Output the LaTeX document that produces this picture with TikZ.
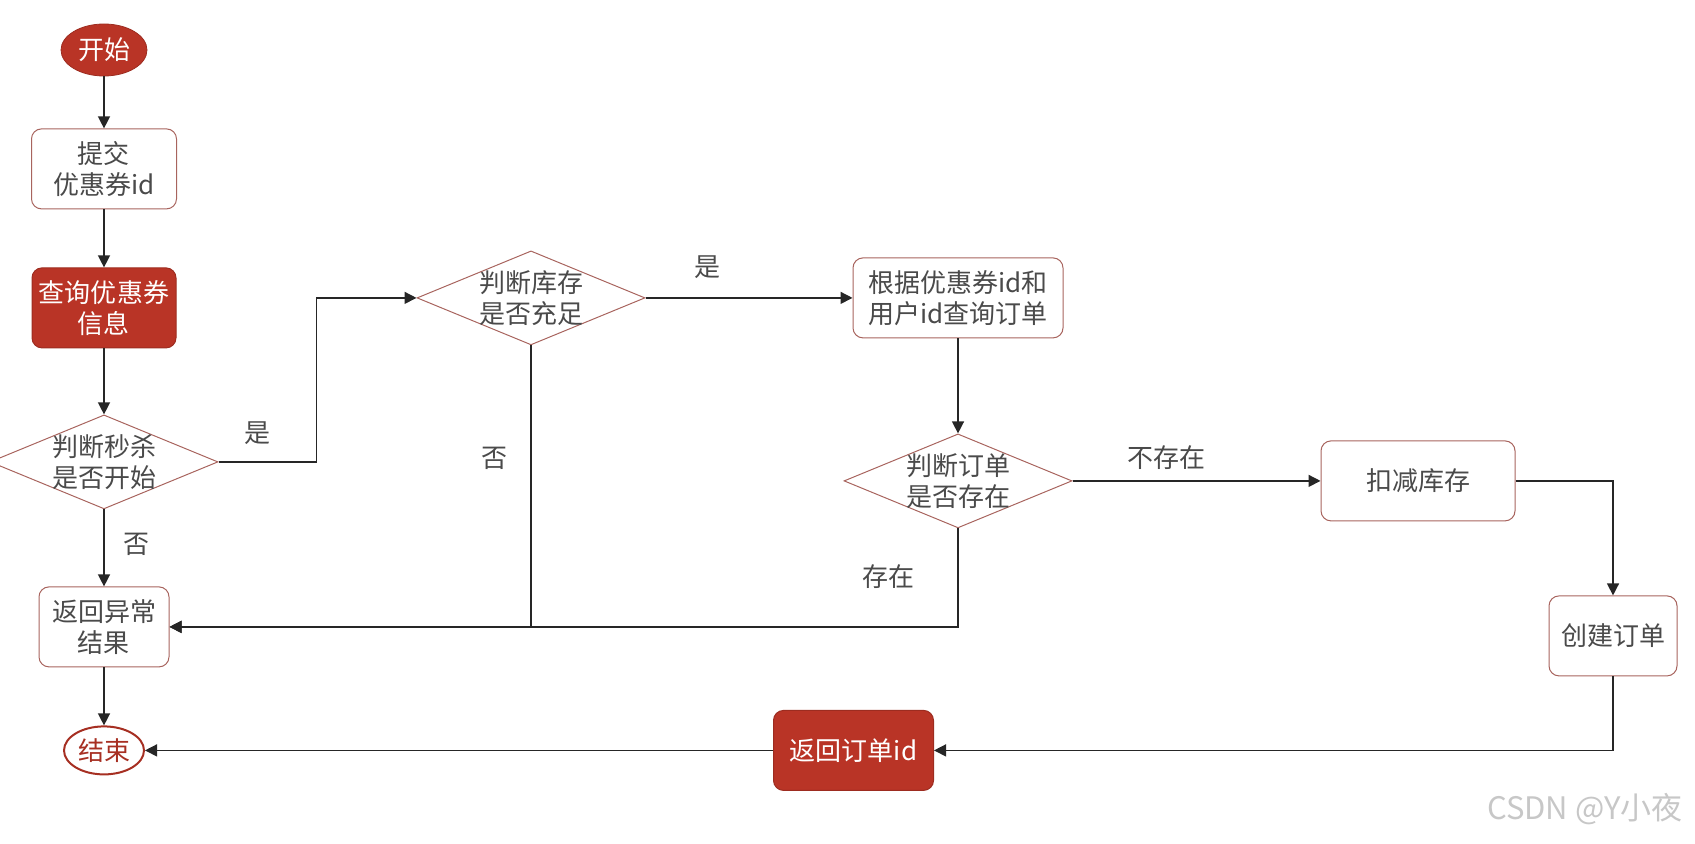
\documentclass[tikz,border=0pt]{standalone}
\usepackage{fontspec}
\setmainfont{Noto Sans CJK SC}
\usetikzlibrary{positioning,arrows.meta,shapes.geometric}
\definecolor{flowred}{HTML}{B93426}
\definecolor{edgered}{HTML}{A8645E}
\definecolor{txtgray}{HTML}{4A4A4A}

\begin{document}
\begin{tikzpicture}[
  font=\fontsize{13pt}{15.5pt}\selectfont,
  box/.style={draw=edgered, fill=white, rounded corners=5pt, minimum height=40pt,
              align=center, text=txtgray, line width=0.5pt},
  redbox/.style={box, draw=flowred!85!black, fill=flowred, text=white},
  decision/.style={diamond, draw=edgered, align=center, text=txtgray, line width=0.5pt,
              inner sep=-4pt, minimum width=114pt, minimum height=47pt, aspect=2.4},
  term/.style={ellipse, minimum width=43pt, minimum height=26pt, inner sep=0pt},
  arr/.style={-{Triangle[length=6pt,width=6pt]}, draw=black!85, line width=0.7pt},
  lbl/.style={text=txtgray}]
\useasboundingbox (0,0) rectangle (847.5pt,-422pt);
\node[term, fill=flowred, draw=flowred!85!black, text=white] (start) at (52pt,-25pt) {开始};
\node[box, minimum width=72.5pt, below=26pt of start] (submit) {提交\\优惠券id};
\node[redbox, minimum width=72pt, below=29pt of submit] (query) {查询优惠券\\信息};
\node[decision, below=33pt of query] (seckill) {判断秒杀\\是否开始};
\node[box, minimum width=65pt, below=38.5pt of seckill] (err) {返回异常\\结果};
\node[term, minimum width=40pt, minimum height=24pt, draw=flowred!90!black, line width=1pt,
      fill=white, text=flowred!90!black, below=29pt of err] (stop) {结束};
\node[decision, right=120pt of query, yshift=5pt] (stock) {判断库存\\是否充足};
\node[box, minimum width=105pt, right=103.5pt of stock] (findord) {根据优惠券id和\\用户id查询订单};
\node[decision, below=47.5pt of findord] (hasord) {判断订单\\是否存在};
\node[box, minimum width=97pt, right=124pt of hasord] (deduct) {扣减库存};
\node[box, minimum width=64pt, below=37pt of deduct, xshift=97.5pt] (create) {创建订单};
\node[redbox, minimum width=80pt, right=314pt of stop] (retid) {返回订单id};
\node[text=black!22, font=\fontsize{15.5pt}{18pt}\selectfont, anchor=east] (mark) at (845pt,-404.5pt) {CSDN @Y小夜};
% left column
\draw[arr] (start) -- (submit);
\draw[arr] (submit) -- (query);
\draw[arr] (query) -- (seckill);
\draw[arr] (seckill) -- node[lbl, right=6pt, pos=0.45] (no1) {否} (err);
\draw[arr] (err) -- (stop);
% checks
\draw[arr] (seckill.east) -- ++(49pt,0) node[lbl, pos=0.4, above=5pt] (yes1) {是} |- (stock.west);
\draw[arr] (stock) -- node[lbl, pos=0.3, above=6pt] (yes2) {是} (findord);
\draw[arr] (stock.south) |- node[lbl, pos=0.2, left=8pt] (no2) {否} (err.east);
\draw[arr] (findord) -- (hasord);
\draw[arr] (hasord.south) |- node[lbl, pos=0.245, left=18pt] (yes3) {存在} (err.east);
\draw[arr] (hasord) -- node[lbl, pos=0.38, above=2pt] (no3) {不存在} (deduct);
% order path
\draw[arr] (deduct.east) -| (create.north);
\draw[arr] (create.south) |- (retid.east);
\draw[arr] (retid) -- (stop);
\end{tikzpicture}
\end{document}
